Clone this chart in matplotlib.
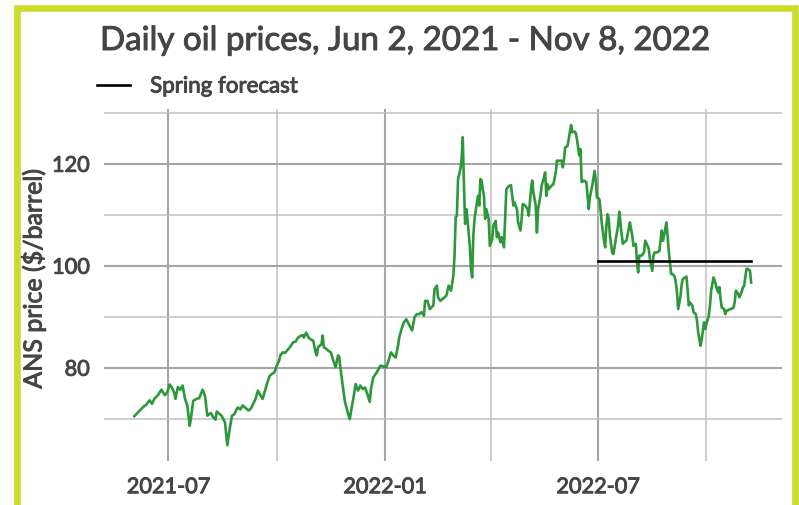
import matplotlib
matplotlib.use("Agg")
import matplotlib.pyplot as plt
import matplotlib.dates as mdates
import matplotlib.patheffects as pe
import pandas as pd
from matplotlib.patches import Rectangle

plt.rcParams['font.family'] = ['Lato', 'DejaVu Sans']

# ---- data ----
dates = [
 "2021-06-02","2021-06-10","2021-06-12","2021-06-15","2021-06-17","2021-06-19","2021-06-22","2021-06-25",
 "2021-06-26","2021-06-28","2021-06-30","2021-07-02","2021-07-04","2021-07-06","2021-07-07","2021-07-09",
 "2021-07-11","2021-07-13","2021-07-15","2021-07-17","2021-07-19","2021-07-20","2021-07-22","2021-07-25",
 "2021-07-27","2021-07-30","2021-08-01","2021-08-03","2021-08-06","2021-08-08","2021-08-10","2021-08-11",
 "2021-08-15","2021-08-18","2021-08-20","2021-08-22","2021-08-24","2021-08-26","2021-08-28","2021-08-29",
 "2021-08-31","2021-09-02","2021-09-04","2021-09-07","2021-09-09","2021-09-11","2021-09-13","2021-09-15",
 "2021-09-17","2021-09-19","2021-09-21","2021-09-23","2021-09-25","2021-09-27","2021-09-29","2021-10-01",
 "2021-10-03","2021-10-04","2021-10-06","2021-10-08","2021-10-11","2021-10-13","2021-10-15","2021-10-17",
 "2021-10-19","2021-10-21","2021-10-23","2021-10-24","2021-10-26","2021-10-28","2021-10-30","2021-11-01",
 "2021-11-03","2021-11-04","2021-11-05","2021-11-08","2021-11-09","2021-11-10","2021-11-12","2021-11-14",
 "2021-11-16","2021-11-18","2021-11-20","2021-11-22","2021-11-23","2021-11-24","2021-11-26","2021-11-28",
 "2021-12-01","2021-12-02","2021-12-03","2021-12-05","2021-12-07","2021-12-09","2021-12-11","2021-12-13",
 "2021-12-15","2021-12-17","2021-12-19","2021-12-20","2021-12-22","2021-12-25","2021-12-28","2021-12-30",
 "2022-01-02","2022-01-04","2022-01-06","2022-01-08","2022-01-10","2022-01-12","2022-01-13","2022-01-15",
 "2022-01-17","2022-01-19","2022-01-22","2022-01-24","2022-01-26","2022-01-28","2022-01-30","2022-02-01",
 "2022-02-03","2022-02-04","2022-02-06","2022-02-08","2022-02-11","2022-02-12","2022-02-14","2022-02-15",
 "2022-02-17","2022-02-19","2022-02-22","2022-02-24","2022-02-26","2022-02-28","2022-03-01","2022-03-02",
 "2022-03-03","2022-03-04","2022-03-06","2022-03-07","2022-03-08","2022-03-09","2022-03-10","2022-03-11",
 "2022-03-12","2022-03-14","2022-03-15","2022-03-16","2022-03-17","2022-03-18","2022-03-20","2022-03-21",
 "2022-03-22","2022-03-23","2022-03-24","2022-03-25","2022-03-26","2022-03-27","2022-03-28","2022-03-30",
 "2022-03-31","2022-04-02","2022-04-03","2022-04-05","2022-04-06","2022-04-07","2022-04-09","2022-04-10",
 "2022-04-12","2022-04-13","2022-04-14","2022-04-16","2022-04-18","2022-04-20","2022-04-21","2022-04-23",
 "2022-04-24","2022-04-26","2022-04-27","2022-04-28","2022-04-30","2022-05-02","2022-05-03","2022-05-05",
 "2022-05-06","2022-05-07","2022-05-09","2022-05-10","2022-05-11","2022-05-13","2022-05-14","2022-05-16",
 "2022-05-17","2022-05-18","2022-05-19","2022-05-20","2022-05-22","2022-05-24","2022-05-26","2022-05-27",
 "2022-05-29","2022-05-31","2022-06-01","2022-06-02","2022-06-03","2022-06-05","2022-06-06","2022-06-08",
 "2022-06-09","2022-06-11","2022-06-12","2022-06-13","2022-06-15","2022-06-16","2022-06-17","2022-06-19",
 "2022-06-21","2022-06-22","2022-06-23","2022-06-24","2022-06-26","2022-06-28","2022-06-29","2022-06-30",
 "2022-07-02","2022-07-03","2022-07-04","2022-07-06","2022-07-07","2022-07-08","2022-07-09","2022-07-10",
 "2022-07-11","2022-07-13","2022-07-14","2022-07-16","2022-07-18","2022-07-19","2022-07-20","2022-07-22",
 "2022-07-23","2022-07-25","2022-07-27","2022-07-28","2022-07-30","2022-07-31","2022-08-02","2022-08-03",
 "2022-08-04","2022-08-05","2022-08-07","2022-08-09","2022-08-10","2022-08-12","2022-08-13","2022-08-14",
 "2022-08-16","2022-08-17","2022-08-18","2022-08-20","2022-08-22","2022-08-24","2022-08-25","2022-08-26",
 "2022-08-27","2022-08-28","2022-08-29","2022-08-30","2022-09-01","2022-09-02","2022-09-04","2022-09-05",
 "2022-09-06","2022-09-07","2022-09-09","2022-09-10","2022-09-11","2022-09-13","2022-09-14","2022-09-15",
 "2022-09-16","2022-09-17","2022-09-19","2022-09-20","2022-09-22","2022-09-23","2022-09-24","2022-09-26",
 "2022-09-27","2022-09-29","2022-09-30","2022-10-01","2022-10-03","2022-10-04","2022-10-05","2022-10-07",
 "2022-10-08","2022-10-10","2022-10-11","2022-10-12","2022-10-13","2022-10-14","2022-10-16","2022-10-17",
 "2022-10-18","2022-10-19","2022-10-21","2022-10-22","2022-10-24","2022-10-25","2022-10-26","2022-10-28",
 "2022-10-29","2022-10-31","2022-11-01","2022-11-02","2022-11-04","2022-11-05","2022-11-07","2022-11-08",
]
prices = [
 70.5,72.4,72.7,73.6,72.9,73.9,74.6,75.7,
 75.3,74.6,75.2,76.7,76.1,75.0,73.9,76.2,
 75.7,76.5,73.9,72.6,68.6,69.9,73.5,73.9,
 74.0,75.7,74.5,70.6,71.1,70.3,69.8,71.4,
 70.6,69.3,64.8,68.0,70.6,70.9,71.9,72.2,
 71.8,72.6,72.2,71.6,72.0,72.9,73.9,75.5,
 74.6,73.9,75.5,77.1,78.4,78.8,79.1,80.4,
 81.4,82.4,83.0,82.9,83.7,84.3,85.0,85.1,
 85.9,86.2,86.4,85.9,86.9,85.9,85.5,85.3,
 83.0,82.4,84.0,84.6,86.3,84.0,83.7,83.3,
 83.0,81.4,80.1,82.4,82.2,80.1,76.5,73.2,
 70.6,69.9,71.3,73.9,76.8,75.5,76.5,75.8,
 76.1,74.8,73.3,75.8,78.1,79.1,80.4,80.3,
 80.1,81.4,83.0,82.4,82.0,84.3,85.9,87.6,
 88.9,89.5,88.2,87.3,89.9,90.5,90.5,90.9,
 90.2,93.1,93.1,91.5,92.2,95.4,96.1,93.8,
 93.1,93.5,94.1,96.1,95.1,98.0,102.0,109.5,
 109.8,117.0,119.0,120.9,125.2,116.0,108.2,111.1,
 109.2,103.9,99.4,97.7,105.9,109.2,112.4,113.7,
 111.8,117.0,116.7,115.0,113.7,109.2,111.1,109.2,
 103.9,105.2,107.9,108.8,105.6,106.5,104.6,105.6,
 103.6,109.2,115.0,115.6,115.8,111.8,112.4,111.1,
 108.5,106.9,109.2,112.1,111.8,111.1,109.8,115.0,
 116.7,114.4,111.8,106.5,111.1,113.7,115.7,117.3,
 118.3,113.7,116.0,115.0,115.6,116.0,118.3,120.6,
 120.6,120.6,119.3,120.9,123.2,123.5,124.8,127.6,
 126.2,126.3,126.0,124.8,121.6,122.9,116.4,116.7,
 116.4,113.7,111.1,113.4,115.7,118.6,116.7,113.4,
 113.1,111.1,108.5,104.9,103.6,107.9,110.1,109.2,
 105.9,102.5,102.3,105.2,107.9,110.6,108.2,104.3,
 104.6,104.9,107.2,108.5,105.9,103.9,104.3,100.7,
 98.7,102.0,102.0,102.6,104.9,103.9,103.3,101.3,
 99.0,102.0,102.6,102.6,102.9,106.9,104.9,105.9,
 107.2,108.5,105.9,102.9,98.4,98.4,97.9,96.7,
 94.8,91.5,94.1,96.4,97.4,97.7,97.9,95.4,
 92.2,92.8,92.2,90.9,90.5,89.2,86.9,84.3,
 85.6,88.9,87.6,88.6,90.2,92.2,95.1,97.7,
 97.1,95.4,94.8,95.8,93.5,91.8,91.5,90.5,
 91.2,91.2,91.5,91.5,91.8,92.8,95.1,94.5,
 93.8,94.9,95.8,96.0,99.4,99.4,99.0,96.7,
]
forecast_dates = ["2022-07-01", "2022-11-08"]
forecast_values = [101, 101]
forecast_label = "Spring forecast"
title = "Daily oil prices, Jun 2, 2021 - Nov 8, 2022"
ylabel = "ANS price ($/barrel)"
y_major = [80, 100, 120]
y_minor = [70, 90, 110, 130]
x_major = ["2021-07-01", "2022-01-01", "2022-07-01"]
x_minor = ["2021-10-01", "2022-04-01", "2022-10-01"]

# ---- figure ----
W, H = 799, 506
AX_L, AX_R, AX_T, AX_B = 103.5, 782.0, 110.0, 462.2
fig = plt.figure(figsize=(W / 100, H / 100), dpi=100)
ax = fig.add_axes([AX_L / W, 1 - AX_B / H, (AX_R - AX_L) / W, (AX_B - AX_T) / H])

TEXT = '#454545'
bold_fx = [pe.withStroke(linewidth=0.7, foreground=TEXT)]

ax.plot(pd.to_datetime(dates), prices, color='#2c983a', lw=1.9, zorder=3)
ax.plot(pd.to_datetime(forecast_dates), forecast_values, color='black', lw=1.9,
        zorder=4, label=forecast_label)
ax.margins(x=0.05, y=0.05)

ax.set_yticks(y_major)
ax.set_yticks(y_minor, minor=True)
ax.set_xticks(pd.to_datetime(x_major))
ax.set_xticks(pd.to_datetime(x_minor), minor=True)
ax.xaxis.set_major_formatter(mdates.DateFormatter('%Y-%m'))
ax.grid(which='major', color='#a5a5a5', lw=1.5)
ax.grid(which='minor', color='#c0c0c0', lw=1.1)
ax.set_axisbelow(True)
for s in ax.spines.values():
    s.set_visible(False)
ax.tick_params(which='both', length=0)
ax.tick_params(axis='y', pad=10, labelsize=15.5, labelcolor=TEXT)
ax.tick_params(axis='x', pad=11.5, labelsize=15.5, labelcolor=TEXT)
ylab = ax.set_ylabel(ylabel, fontsize=15, color=TEXT)

ttl = fig.text(100 / W, 1 - 42 / H, title, fontsize=20.5, color=TEXT, ha='left', va='center')
leg = ax.legend(loc='center left', bbox_to_anchor=(97 / W, 1 - 87.5 / H), bbox_transform=fig.transFigure,
                frameon=False, fontsize=15, labelcolor=TEXT, handlelength=1.6, handletextpad=0.95,
                borderpad=0, borderaxespad=0)

# fit text sizes to the widths measured on the reference
fig.canvas.draw()
r = fig.canvas.get_renderer()
def fit(t, target, vertical=False):
    bb = t.get_window_extent(r)
    cur = bb.height if vertical else bb.width
    t.set_fontsize(t.get_fontsize() * target / cur)
fit(ttl, 612)
fit(leg.get_texts()[0], 148)
fit(ylab, 220, vertical=True)
xl = ax.get_xticklabels()[0]
tick_size = xl.get_fontsize() * 83 / xl.get_window_extent(r).width
ax.tick_params(which='major', labelsize=tick_size)

# y-label centred at x=33 px, y=280 px as in the reference
ylab.set_verticalalignment('center')
ax.yaxis.set_label_coords((33 - AX_L) / (AX_R - AX_L), (AX_B - 280) / (AX_B - AX_T))

for t in [ttl, ylab, leg.get_texts()[0]] + ax.get_xticklabels() + ax.get_yticklabels():
    t.set_path_effects(bold_fx)

# lime frame around the graphic
fig.patches.append(Rectangle((16.5 / W, -0.1), (794.5 - 16.5) / W, 1.1 - 8.5 / H,
                             transform=fig.transFigure, fill=False, edgecolor='#cbdc2c',
                             lw=4.8, zorder=10))

fig.savefig('out.png', dpi=100)
